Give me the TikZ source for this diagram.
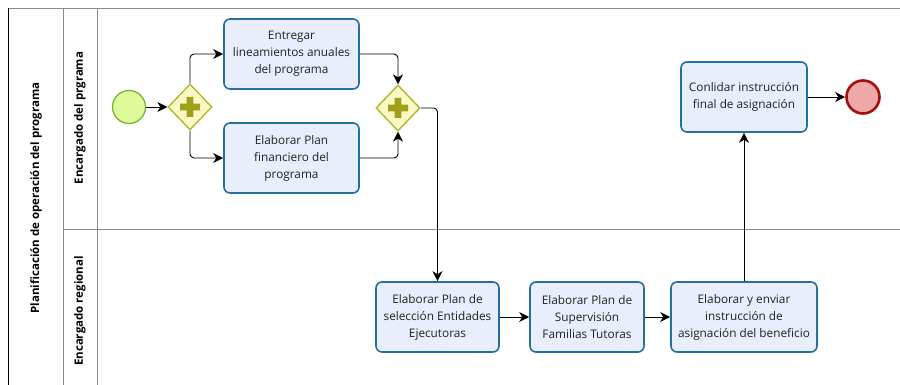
\documentclass[tikz,border=0pt]{standalone}
\usepackage{fontspec}
\setmainfont{Open Sans}
\usetikzlibrary{arrows.meta,shapes.geometric}

\definecolor{taskfill}{HTML}{E9EEFC}
\definecolor{taskline}{HTML}{23709F}
\definecolor{gwfill}{HTML}{FAF8C4}
\definecolor{gwline}{HTML}{B3B32A}
\definecolor{gwplus}{HTML}{A0A018}
\definecolor{startfill}{HTML}{DFFA9B}
\definecolor{startline}{HTML}{78B52C}
\definecolor{endfill}{HTML}{EEA8A8}
\definecolor{endline}{HTML}{A60E0E}
\definecolor{laneline}{HTML}{8A8A8A}
\definecolor{txt}{HTML}{222222}

\tikzset{
  task/.style={draw=taskline, fill=taskfill, line width=1.6pt, rounded corners=6pt,
    minimum width=#1, minimum height=70pt, inner sep=0pt, align=center,
    text=txt, font=\fontsize{11.8}{17}\selectfont},
  task/.default=135pt,
  gateway/.style={diamond, draw=gwline, fill=gwfill, line width=1.3pt, aspect=1,
    minimum width=44pt, minimum height=46pt, inner sep=0pt},
  startev/.style={circle, draw=startline, fill=startfill, line width=1.3pt,
    minimum size=33pt, inner sep=0pt},
  endev/.style={circle, draw=endline, fill=endfill, line width=2.6pt,
    minimum size=33pt, inner sep=0pt},
  flow/.style={draw=black, line width=0.9pt, rounded corners=4pt,
    -{Stealth[length=10pt,width=10pt,inset=3pt]}},
  lanetitle/.style={rotate=90, font=\fontsize{11.5}{13}\selectfont\bfseries, text=black},
  plus/.pic={
    \fill[gwplus] (-10,-3.4) -- (-3.4,-3.4) -- (-3.4,-10) -- (3.4,-10) -- (3.4,-3.4)
      -- (10,-3.4) -- (10,3.4) -- (3.4,3.4) -- (3.4,10) -- (-3.4,10) -- (-3.4,3.4)
      -- (-10,3.4) -- cycle;
  }
}

\begin{document}
\begin{tikzpicture}[x=1pt,y=-1pt]
\useasboundingbox (0,0) rectangle (900,385);

% pool and lane frame
\draw[laneline, line width=0.9pt] (8,8) -- (900,8);
\draw[laneline, line width=0.9pt] (63,229) -- (900,229);
\draw[laneline, line width=0.9pt] (63,8) -- (63,385);
\draw[laneline, line width=0.9pt] (97,8) -- (97,385);
\draw[black, line width=0.9pt] (8,8) -- (8,385);

% titles
\node[lanetitle] (pooltitle) at (36,198) {Planificación de operación del programa};
\node[lanetitle] (lane1title) at (80,118) {Encargado del prgrama};
\node[lanetitle] (lane2title) at (80,311) {Encargado regional};

% events and gateways
\node[startev] (start) at (129,107) {};
\node[gateway] (gw1) at (190,107) {};
\pic at (gw1) {plus};
\node[gateway] (gw2) at (398,108) {};
\pic at (gw2) {plus};
\node[endev] (end) at (863,97) {};

% tasks
\node[task] (t1) at (291.5,54) {Entregar\\lineamientos anuales\\del programa};
\node[task] (t2) at (291.5,158) {Elaborar Plan\\financiero del\\programa};
\node[task=123pt] (t3) at (437.5,317) {Elaborar Plan de\\selección Entidades\\Ejecutoras};
\node[task=114pt] (t4) at (587,317) {Elaborar Plan de\\Supervisión\\Familias Tutoras};
\node[task=146pt] (t5) at (744,317) {Elaborar y enviar\\instrucción de\\asignación del beneficio};
\node[task=126pt] (t6) at (744,97) {Conlidar instrucción\\final de asignación};

% sequence flows
\draw[flow] (start) -- (gw1);
\draw[flow] (gw1.north) |- (t1.west);
\draw[flow] (gw1.south) |- (t2.west);
\draw[flow] (t1.east) -| (gw2.north);
\draw[flow] (t2.east) -| (gw2.south);
\draw[flow] (gw2.east) -| (t3.north);
\draw[flow] (t3) -- (t4);
\draw[flow] (t4) -- (t5);
\draw[flow] (t5) -- (t6);
\draw[flow] (t6) -- (end);
\end{tikzpicture}
\end{document}
